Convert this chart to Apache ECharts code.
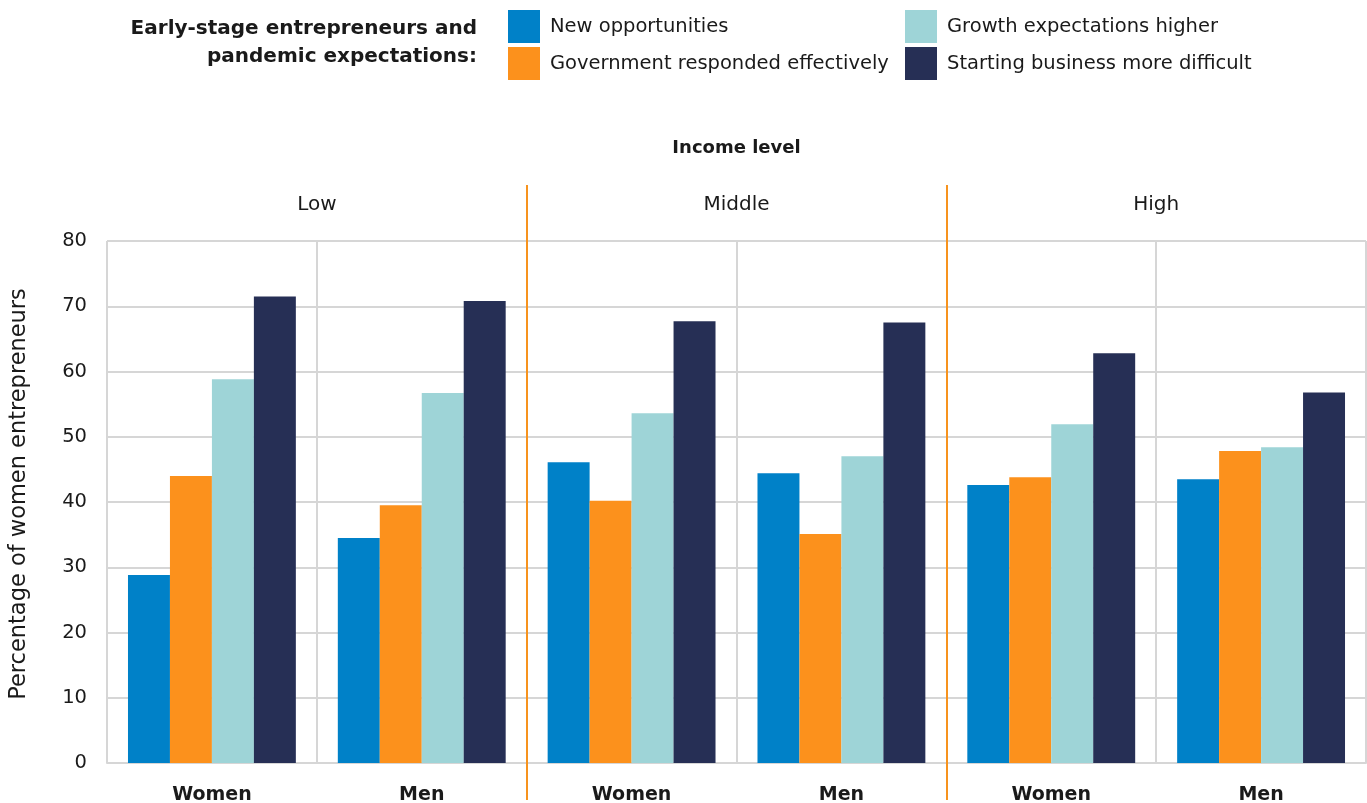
<!DOCTYPE html>
<html>
<head>
<meta charset="utf-8">
<script src="https://cdn.jsdelivr.net/npm/echarts@6/dist/echarts.min.js"></script>
<style>
  html, body { margin: 0; padding: 0; background: #fff; }
  #chart { width: 1367px; height: 803px; }
</style>
</head>
<body>
<div id="chart"></div>
<script>
// Income groups and the gender split inside each
const incomeGroups = ['Low', 'Middle', 'High'];
const genders = ['Women', 'Men', 'Women', 'Men', 'Women', 'Men'];

// Share (%) of early-stage entrepreneurs, ordered Low W, Low M, Mid W, Mid M, High W, High M
const newOpportunities    = [28.8, 34.5, 46.1, 44.4, 42.6, 43.5];
const governmentEffective = [44.0, 39.5, 40.2, 35.1, 43.8, 47.8];
const growthHigher        = [58.8, 56.7, 53.6, 47.0, 51.9, 48.4];
const startingHarder      = [71.5, 70.8, 67.7, 67.5, 62.8, 56.8];

const seriesNames = [
  'New opportunities',
  'Government responded effectively',
  'Growth expectations higher',
  'Starting business more difficult'
];
const seriesValues = [newOpportunities, governmentEffective, growthHigher, startingHarder];
const colors = ['#0081C8', '#FC911C', '#9ED4D7', '#262F55'];

const yTicks = { min: 0, max: 80, step: 10 };

const FONT = 'DejaVu Sans';
const INK = '#1a1a1a';
const chart = echarts.init(document.getElementById('chart'));

const legendBase = {
  orient: 'vertical',
  padding: 0,
  itemWidth: 32,
  itemHeight: 33,
  itemGap: 4,
  icon: 'rect',
  selectedMode: false,
  textStyle: { fontFamily: FONT, fontSize: 19.5, color: INK, padding: [0, 0, 0, 5] }
};

chart.setOption({
  animation: false,
  color: colors,
  textStyle: { fontFamily: FONT },
  title: {
    text: 'Early-stage entrepreneurs and\npandemic expectations:',
    left: 472,
    top: 10,
    textAlign: 'right',
    textStyle: { fontFamily: FONT, fontSize: 20, fontWeight: 'bold', color: INK, lineHeight: 28, align: 'right' }
  },
  legend: [
    Object.assign({ left: 508, top: 10, data: seriesNames.slice(0, 2) }, legendBase),
    Object.assign({ left: 905, top: 10, data: seriesNames.slice(2, 4) }, legendBase)
  ],
  grid: [
    { left: 107, right: 1, top: 241, bottom: 40, containLabel: false, outerBoundsMode: 'none' },
    // taller band used only for the income-group dividers
    { left: 107, right: 1, top: 185, bottom: 3, containLabel: false, outerBoundsMode: 'none' }
  ],
  xAxis: [
    {
      type: 'category',
      gridIndex: 0,
      data: genders,
      axisLine: { lineStyle: { color: '#d6d6d6', width: 2 } },
      axisTick: { show: false },
      axisLabel: { fontFamily: FONT, fontSize: 19, fontWeight: 'bold', color: INK, margin: 23 },
      splitLine: { show: true, lineStyle: { color: '#d6d6d6', width: 2 } }
    },
    {
      type: 'value',
      gridIndex: 1,
      min: 0,
      max: incomeGroups.length * 2,
      interval: 2,
      axisLine: { show: false },
      axisTick: { show: false },
      axisLabel: { show: false },
      z: 5,
      splitLine: {
        show: true,
        showMinLine: false,
        showMaxLine: false,
        lineStyle: { color: '#F7931E', width: 2 }
      }
    },
    {
      type: 'category',
      gridIndex: 0,
      position: 'top',
      data: incomeGroups,
      axisLine: { show: false },
      axisTick: { show: false },
      splitLine: { show: false },
      axisLabel: { fontFamily: FONT, fontSize: 20, color: INK, margin: 26 },
      name: 'Income level',
      nameLocation: 'middle',
      nameGap: 84,
      nameTextStyle: { fontFamily: FONT, fontSize: 18, fontWeight: 'bold', color: INK }
    }
  ],
  yAxis: [
    {
      type: 'value',
      gridIndex: 0,
      min: yTicks.min,
      max: yTicks.max,
      interval: yTicks.step,
      axisLine: { show: false },
      axisTick: { show: false },
      axisLabel: { fontFamily: FONT, fontSize: 19.5, color: INK, margin: 20 },
      splitLine: { lineStyle: { color: '#d6d6d6', width: 2 } },
      name: 'Percentage of women entrepreneurs',
      nameLocation: 'middle',
      nameGap: 76,
      nameTextStyle: { fontFamily: FONT, fontSize: 22.5, color: INK, padding: [0, 0, 0, 16] }
    },
    { type: 'value', gridIndex: 1, show: false, min: 0, max: 1 }
  ],
  series: seriesNames.map((name, i) => ({
    name,
    type: 'bar',
    xAxisIndex: 0,
    yAxisIndex: 0,
    barGap: '0%',
    barCategoryGap: '20%',
    data: seriesValues[i],
    itemStyle: { color: colors[i] }
  }))
});
</script>
</body>
</html>
